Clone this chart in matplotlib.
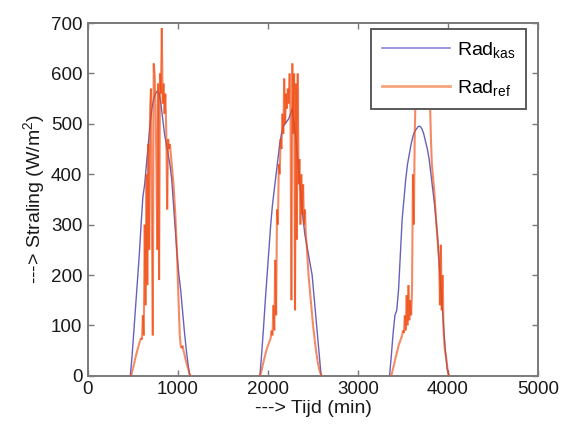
import numpy as np
import matplotlib
matplotlib.use("Agg")
import matplotlib.pyplot as plt
from matplotlib.collections import LineCollection
from matplotlib.lines import Line2D

plt.rcParams['font.family'] = ['Liberation Sans', 'DejaVu Sans']
plt.rcParams['mathtext.fontset'] = 'custom'
plt.rcParams['mathtext.rm'] = 'Liberation Sans'
plt.rcParams['mathtext.it'] = 'Liberation Sans:italic'

# ---- data: Rad_kas (greenhouse radiation), sampled every 20 min per day
kas_start = [470, 1910, 3350]
kas_step = 20
kas_day1 = [0, 40, 90, 140, 190, 240, 300, 355, 380, 420, 460, 500, 530, 550, 560, 565, 560,
            540, 510, 480, 460, 440, 420, 390, 340, 290, 240, 200, 170, 130, 90, 55, 25, 0]
kas_day2 = [0, 45, 95, 150, 200, 250, 300, 340, 370, 400, 430, 460, 480, 495, 500, 505, 510,
            520, 530, 500, 470, 430, 390, 350, 310, 280, 260, 240, 220, 200, 160, 120, 80, 40, 0]
kas_day3 = [0, 40, 85, 120, 130, 170, 240, 310, 350, 390, 420, 440, 460, 475, 485, 490, 495,
            495, 490, 480, 465, 450, 430, 400, 370, 340, 305, 260, 200, 150, 100, 50, 15, 0]

# ---- data: Rad_ref (reference radiation), sampled every 10 min per day
ref_start = [480, 1900, 3370]
ref_step = 10
ref_day1 = [0, 8, 15, 22, 30, 38, 45, 52, 58, 65, 70, 75, 72, 120, 80, 300, 140, 400, 180, 460,
            250, 530, 570, 300, 80, 620, 600, 540, 420, 250, 580, 190, 600, 560, 690, 540, 580,
            520, 560, 480, 330, 470, 450, 460, 440, 420, 400, 380, 350, 320, 280, 240, 180, 130,
            80, 60, 55, 60, 50, 45, 35, 28, 22, 15, 10, 3, 0]
ref_day2 = [0, 0, 5, 12, 20, 28, 35, 42, 50, 55, 60, 65, 70, 75, 90, 80, 140, 90, 230, 120, 330,
            300, 420, 400, 470, 450, 520, 480, 590, 500, 560, 530, 570, 540, 600, 520, 150, 620,
            480, 600, 130, 580, 270, 600, 380, 430, 300, 400, 320, 380, 300, 330, 280, 260, 230,
            200, 180, 160, 140, 120, 100, 85, 70, 55, 42, 30, 20, 12, 6, 2, 0]
ref_day3 = [0, 8, 15, 22, 30, 38, 45, 52, 60, 65, 70, 75, 80, 90, 85, 120, 90, 160, 100, 180,
            110, 150, 120, 170, 400, 300, 480, 560, 600, 610, 620, 620, 620, 615, 610, 605, 600,
            595, 590, 585, 580, 570, 560, 540, 470, 420, 400, 380, 360, 330, 300, 280, 250, 230,
            140, 260, 130, 200, 90, 60, 45, 35, 20, 5, 0]

x_ticks = [0, 1000, 2000, 3000, 4000, 5000]
y_ticks = [0, 100, 200, 300, 400, 500, 600, 700]

fig = plt.figure(figsize=(5.64, 4.30), dpi=100)
ax = fig.add_axes([0.156, 0.126, 0.798, 0.8205])

blue = '#4b46b0'
orange = '#f04a10'

for st, vals in zip(kas_start, [kas_day1, kas_day2, kas_day3]):
    t = st + kas_step * np.arange(len(vals))
    ax.plot(t, vals, color=blue, lw=1.0, alpha=0.85, zorder=2)

for st, vals in zip(ref_start, [ref_day1, ref_day2, ref_day3]):
    t = st + ref_step * np.arange(len(vals))
    pts = np.column_stack([t, vals])
    segs = np.stack([pts[:-1], pts[1:]], axis=1)
    lc = LineCollection(segs, colors=orange, linewidths=1.5, alpha=0.65, zorder=3)
    ax.add_collection(lc)

ax.set_xlim(0, 5000)
ax.set_ylim(0, 700)
ax.set_xticks(x_ticks)
ax.set_yticks(y_ticks)
ax.tick_params(direction='in', top=True, right=True, length=4, width=1.0,
               color='#7a7a7a', labelsize=13.5, labelcolor='#1a1a1a', pad=4)
for sp in ax.spines.values():
    sp.set_color('#7a7a7a')
    sp.set_linewidth(1.4)

ax.set_xlabel('---> Tijd (min)', fontsize=14, color='#1a1a1a', labelpad=1)
ax.set_ylabel('---> Straling (W/m$^2$)', fontsize=14, color='#1a1a1a', labelpad=3)

handles = [Line2D([], [], color='#8a86d6', lw=1.2),
           Line2D([], [], color='#f8a47c', lw=2.0)]
leg = ax.legend(handles, [r'Rad$_{\mathrm{kas}}$', r'Rad$_{\mathrm{ref}}$'],
                loc='upper right', bbox_to_anchor=(0.973, 0.983), borderaxespad=0.0,
                fontsize=14, handlelength=3.5, handletextpad=0.35,
                fancybox=False, framealpha=1.0, labelspacing=0.95, borderpad=0.55)
leg.get_frame().set_edgecolor('#5a5a5a')
leg.get_frame().set_linewidth(1.4)
leg.set_zorder(5)

fig.savefig('out.png', dpi=100)
